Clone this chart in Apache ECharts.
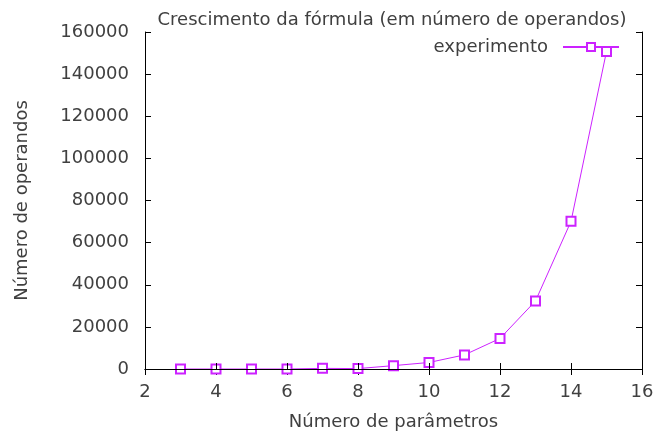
<!DOCTYPE html>
<html>
<head>
<meta charset="utf-8">
<script src="https://cdn.jsdelivr.net/npm/echarts@6/dist/echarts.min.js"></script>
<style>
  html, body { margin: 0; padding: 0; background: #fff; }
  #chart { width: 654px; height: 433px; }
</style>
</head>
<body>
<div id="chart"></div>
<script>
// Number of parameters vs. number of operands in the generated formula
const parametros = [3, 4, 5, 6, 7, 8, 9, 10, 11, 12, 13, 14, 15];
const operandos  = [0, 0, 0, 0, 300, 200, 1600, 3100, 6700, 14500, 32300, 70100, 150800];
const xTicks = { min: 2, max: 16, interval: 2 };
const yTicks = { min: 0, max: 160000, interval: 20000 };

const FONT = 'DejaVu Sans';
const TEXT = '#404040';
const LINE = '#cc22ff';
const FS = 18;

const chart = echarts.init(document.getElementById('chart'), null, { renderer: 'canvas' });

const baseAxis = {
  type: 'value',
  axisLine: { show: true, lineStyle: { color: '#000', width: 1 } },
  axisTick: { show: true, inside: true, length: 6, lineStyle: { color: '#000' } },
  splitLine: { show: false },
  axisLabel: { color: TEXT, fontFamily: FONT, fontSize: FS, formatter: v => String(v) },
  nameTextStyle: { color: TEXT, fontFamily: FONT, fontSize: FS }
};

chart.setOption({
  animation: false,
  backgroundColor: '#fff',
  title: {
    text: 'Crescimento da fórmula (em número de operandos)',
    left: 387, top: 6, textAlign: 'center',
    textStyle: { color: TEXT, fontFamily: FONT, fontSize: FS, fontWeight: 'normal' }
  },
  legend: {
    right: 29, top: 33,
    align: 'right',
    itemWidth: 56, itemHeight: 10, itemGap: 10,
    textStyle: { color: TEXT, fontFamily: FONT, fontSize: FS, padding: [0, 10, 0, 0] },
    data: ['experimento']
  },
  grid: { left: 145, right: 12, top: 32, bottom: 64, containLabel: false, outerBoundsMode: 'none' },
  xAxis: [
    Object.assign({}, baseAxis, {
      position: 'bottom', min: xTicks.min, max: xTicks.max, interval: xTicks.interval,
      name: 'Número de parâmetros', nameLocation: 'middle', nameGap: 44,
      axisLabel: Object.assign({}, baseAxis.axisLabel, { margin: 14 }),
      z: 3
    }),
    Object.assign({}, baseAxis, {
      position: 'top', min: xTicks.min, max: xTicks.max, interval: xTicks.interval,
      axisLabel: { show: false }
    })
  ],
  yAxis: [
    Object.assign({}, baseAxis, {
      position: 'left', min: yTicks.min, max: yTicks.max, interval: yTicks.interval,
      name: 'Número de operandos', nameLocation: 'middle', nameGap: 114,
      axisLabel: Object.assign({}, baseAxis.axisLabel, { margin: 16 })
    }),
    Object.assign({}, baseAxis, {
      position: 'right', min: yTicks.min, max: yTicks.max, interval: yTicks.interval,
      axisLabel: { show: false }
    })
  ],
  series: [{
    name: 'experimento',
    type: 'line',
    xAxisIndex: 0, yAxisIndex: 0,
    data: parametros.map((p, i) => [p, operandos[i]]),
    symbol: 'emptyRect',
    symbolSize: 9,
    showAllSymbol: true,
    lineStyle: { color: LINE, width: 1 },
    itemStyle: { color: LINE, borderColor: LINE, borderWidth: 1.2 },
    z: 2
  }]
});
</script>
</body>
</html>
